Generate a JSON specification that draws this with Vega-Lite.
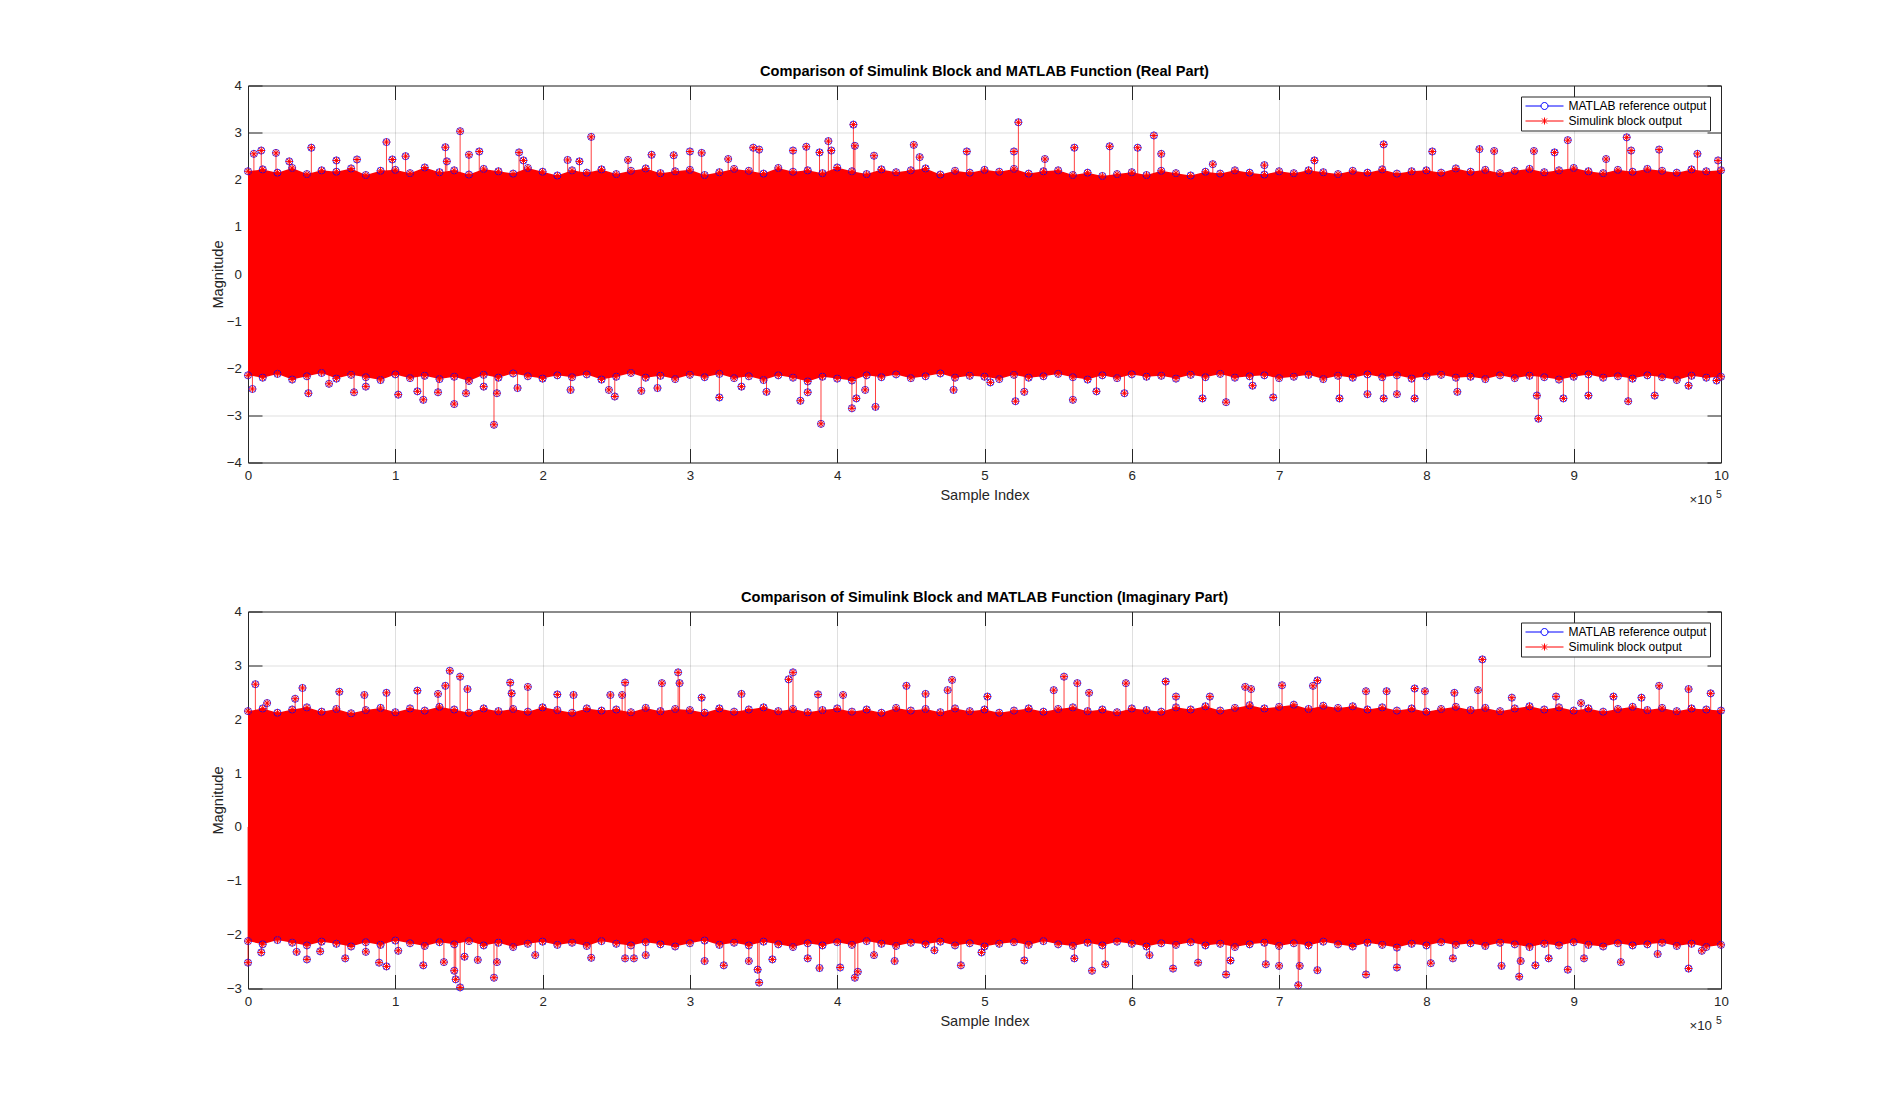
{
  "$schema": "https://vega.github.io/schema/vega-lite/v6.json",
  "padding": {"left": 210, "top": 63.5, "right": 0, "bottom": 0},
  "background": "white",
  "datasets": {
    "band": [
      {"panel":"re","index":0,"upper":2.18,"lower":-2.15},{"panel":"re","index":10000,"upper":2.22,"lower":-2.2},{"panel":"re","index":20000,"upper":2.15,"lower":-2.12},{"panel":"re","index":30000,"upper":2.25,"lower":-2.24},{"panel":"re","index":40000,"upper":2.12,"lower":-2.17},{"panel":"re","index":50000,"upper":2.2,"lower":-2.1},{"panel":"re","index":60000,"upper":2.17,"lower":-2.22},{"panel":"re","index":70000,"upper":2.24,"lower":-2.14},{"panel":"re","index":80000,"upper":2.1,"lower":-2.19},{"panel":"re","index":90000,"upper":2.19,"lower":-2.25},
      {"panel":"re","index":100000,"upper":2.21,"lower":-2.13},{"panel":"re","index":110000,"upper":2.14,"lower":-2.21},{"panel":"re","index":120000,"upper":2.26,"lower":-2.16},{"panel":"re","index":130000,"upper":2.16,"lower":-2.23},{"panel":"re","index":140000,"upper":2.2,"lower":-2.18},{"panel":"re","index":150000,"upper":2.11,"lower":-2.27},{"panel":"re","index":160000,"upper":2.23,"lower":-2.14},{"panel":"re","index":170000,"upper":2.18,"lower":-2.2},{"panel":"re","index":180000,"upper":2.13,"lower":-2.11},{"panel":"re","index":190000,"upper":2.25,"lower":-2.17},
      {"panel":"re","index":200000,"upper":2.17,"lower":-2.22},{"panel":"re","index":210000,"upper":2.09,"lower":-2.15},{"panel":"re","index":220000,"upper":2.2,"lower":-2.19},{"panel":"re","index":230000,"upper":2.15,"lower":-2.13},{"panel":"re","index":240000,"upper":2.22,"lower":-2.24},{"panel":"re","index":250000,"upper":2.12,"lower":-2.18},{"panel":"re","index":260000,"upper":2.19,"lower":-2.1},{"panel":"re","index":270000,"upper":2.24,"lower":-2.2},{"panel":"re","index":280000,"upper":2.14,"lower":-2.16},{"panel":"re","index":290000,"upper":2.18,"lower":-2.23},
      {"panel":"re","index":300000,"upper":2.21,"lower":-2.14},{"panel":"re","index":310000,"upper":2.1,"lower":-2.19},{"panel":"re","index":320000,"upper":2.16,"lower":-2.12},{"panel":"re","index":330000,"upper":2.23,"lower":-2.21},{"panel":"re","index":340000,"upper":2.19,"lower":-2.17},{"panel":"re","index":350000,"upper":2.13,"lower":-2.25},{"panel":"re","index":360000,"upper":2.25,"lower":-2.15},{"panel":"re","index":370000,"upper":2.17,"lower":-2.2},{"panel":"re","index":380000,"upper":2.2,"lower":-2.28},{"panel":"re","index":390000,"upper":2.14,"lower":-2.18},
      {"panel":"re","index":400000,"upper":2.26,"lower":-2.22},{"panel":"re","index":410000,"upper":2.18,"lower":-2.26},{"panel":"re","index":420000,"upper":2.12,"lower":-2.15},{"panel":"re","index":430000,"upper":2.22,"lower":-2.19},{"panel":"re","index":440000,"upper":2.16,"lower":-2.13},{"panel":"re","index":450000,"upper":2.2,"lower":-2.21},{"panel":"re","index":460000,"upper":2.24,"lower":-2.17},{"panel":"re","index":470000,"upper":2.11,"lower":-2.11},{"panel":"re","index":480000,"upper":2.19,"lower":-2.2},{"panel":"re","index":490000,"upper":2.15,"lower":-2.16},
      {"panel":"re","index":500000,"upper":2.21,"lower":-2.18},{"panel":"re","index":510000,"upper":2.17,"lower":-2.23},{"panel":"re","index":520000,"upper":2.23,"lower":-2.14},{"panel":"re","index":530000,"upper":2.13,"lower":-2.2},{"panel":"re","index":540000,"upper":2.18,"lower":-2.17},{"panel":"re","index":550000,"upper":2.2,"lower":-2.12},{"panel":"re","index":560000,"upper":2.1,"lower":-2.19},{"panel":"re","index":570000,"upper":2.15,"lower":-2.24},{"panel":"re","index":580000,"upper":2.08,"lower":-2.15},{"panel":"re","index":590000,"upper":2.12,"lower":-2.21},
      {"panel":"re","index":600000,"upper":2.16,"lower":-2.13},{"panel":"re","index":610000,"upper":2.1,"lower":-2.18},{"panel":"re","index":620000,"upper":2.19,"lower":-2.16},{"panel":"re","index":630000,"upper":2.14,"lower":-2.22},{"panel":"re","index":640000,"upper":2.09,"lower":-2.14},{"panel":"re","index":650000,"upper":2.17,"lower":-2.19},{"panel":"re","index":660000,"upper":2.13,"lower":-2.12},{"panel":"re","index":670000,"upper":2.2,"lower":-2.2},{"panel":"re","index":680000,"upper":2.15,"lower":-2.17},{"panel":"re","index":690000,"upper":2.11,"lower":-2.15},
      {"panel":"re","index":700000,"upper":2.18,"lower":-2.21},{"panel":"re","index":710000,"upper":2.14,"lower":-2.18},{"panel":"re","index":720000,"upper":2.2,"lower":-2.14},{"panel":"re","index":730000,"upper":2.16,"lower":-2.23},{"panel":"re","index":740000,"upper":2.12,"lower":-2.16},{"panel":"re","index":750000,"upper":2.19,"lower":-2.2},{"panel":"re","index":760000,"upper":2.15,"lower":-2.13},{"panel":"re","index":770000,"upper":2.22,"lower":-2.19},{"panel":"re","index":780000,"upper":2.13,"lower":-2.15},{"panel":"re","index":790000,"upper":2.18,"lower":-2.22},
      {"panel":"re","index":800000,"upper":2.2,"lower":-2.17},{"panel":"re","index":810000,"upper":2.15,"lower":-2.14},{"panel":"re","index":820000,"upper":2.24,"lower":-2.2},{"panel":"re","index":830000,"upper":2.17,"lower":-2.18},{"panel":"re","index":840000,"upper":2.21,"lower":-2.23},{"panel":"re","index":850000,"upper":2.14,"lower":-2.15},{"panel":"re","index":860000,"upper":2.19,"lower":-2.21},{"panel":"re","index":870000,"upper":2.23,"lower":-2.16},{"panel":"re","index":880000,"upper":2.16,"lower":-2.19},{"panel":"re","index":890000,"upper":2.2,"lower":-2.24},
      {"panel":"re","index":900000,"upper":2.25,"lower":-2.18},{"panel":"re","index":910000,"upper":2.18,"lower":-2.13},{"panel":"re","index":920000,"upper":2.14,"lower":-2.2},{"panel":"re","index":930000,"upper":2.21,"lower":-2.17},{"panel":"re","index":940000,"upper":2.17,"lower":-2.22},{"panel":"re","index":950000,"upper":2.23,"lower":-2.15},{"panel":"re","index":960000,"upper":2.19,"lower":-2.19},{"panel":"re","index":970000,"upper":2.15,"lower":-2.25},{"panel":"re","index":980000,"upper":2.22,"lower":-2.16},{"panel":"re","index":990000,"upper":2.18,"lower":-2.2},
      {"panel":"re","index":1000000,"upper":2.2,"lower":-2.18},
      {"panel":"im","index":0,"upper":2.15,"lower":-2.12},{"panel":"im","index":10000,"upper":2.2,"lower":-2.18},{"panel":"im","index":20000,"upper":2.12,"lower":-2.1},{"panel":"im","index":30000,"upper":2.18,"lower":-2.15},{"panel":"im","index":40000,"upper":2.22,"lower":-2.2},{"panel":"im","index":50000,"upper":2.14,"lower":-2.13},{"panel":"im","index":60000,"upper":2.19,"lower":-2.17},{"panel":"im","index":70000,"upper":2.11,"lower":-2.22},{"panel":"im","index":80000,"upper":2.17,"lower":-2.14},{"panel":"im","index":90000,"upper":2.21,"lower":-2.19},
      {"panel":"im","index":100000,"upper":2.13,"lower":-2.11},{"panel":"im","index":110000,"upper":2.2,"lower":-2.16},{"panel":"im","index":120000,"upper":2.16,"lower":-2.21},{"panel":"im","index":130000,"upper":2.23,"lower":-2.14},{"panel":"im","index":140000,"upper":2.18,"lower":-2.18},{"panel":"im","index":150000,"upper":2.12,"lower":-2.12},{"panel":"im","index":160000,"upper":2.2,"lower":-2.2},{"panel":"im","index":170000,"upper":2.15,"lower":-2.15},{"panel":"im","index":180000,"upper":2.19,"lower":-2.23},{"panel":"im","index":190000,"upper":2.14,"lower":-2.17},
      {"panel":"im","index":200000,"upper":2.22,"lower":-2.13},{"panel":"im","index":210000,"upper":2.17,"lower":-2.19},{"panel":"im","index":220000,"upper":2.12,"lower":-2.15},{"panel":"im","index":230000,"upper":2.2,"lower":-2.21},{"panel":"im","index":240000,"upper":2.16,"lower":-2.12},{"panel":"im","index":250000,"upper":2.18,"lower":-2.17},{"panel":"im","index":260000,"upper":2.13,"lower":-2.2},{"panel":"im","index":270000,"upper":2.21,"lower":-2.14},{"panel":"im","index":280000,"upper":2.15,"lower":-2.18},{"panel":"im","index":290000,"upper":2.19,"lower":-2.22},
      {"panel":"im","index":300000,"upper":2.17,"lower":-2.16},{"panel":"im","index":310000,"upper":2.12,"lower":-2.11},{"panel":"im","index":320000,"upper":2.2,"lower":-2.19},{"panel":"im","index":330000,"upper":2.14,"lower":-2.15},{"panel":"im","index":340000,"upper":2.18,"lower":-2.2},{"panel":"im","index":350000,"upper":2.22,"lower":-2.13},{"panel":"im","index":360000,"upper":2.15,"lower":-2.18},{"panel":"im","index":370000,"upper":2.19,"lower":-2.23},{"panel":"im","index":380000,"upper":2.13,"lower":-2.16},{"panel":"im","index":390000,"upper":2.17,"lower":-2.2},
      {"panel":"im","index":400000,"upper":2.2,"lower":-2.14},{"panel":"im","index":410000,"upper":2.14,"lower":-2.19},{"panel":"im","index":420000,"upper":2.18,"lower":-2.12},{"panel":"im","index":430000,"upper":2.12,"lower":-2.17},{"panel":"im","index":440000,"upper":2.21,"lower":-2.21},{"panel":"im","index":450000,"upper":2.16,"lower":-2.15},{"panel":"im","index":460000,"upper":2.19,"lower":-2.18},{"panel":"im","index":470000,"upper":2.13,"lower":-2.13},{"panel":"im","index":480000,"upper":2.2,"lower":-2.2},{"panel":"im","index":490000,"upper":2.15,"lower":-2.16},
      {"panel":"im","index":500000,"upper":2.18,"lower":-2.22},{"panel":"im","index":510000,"upper":2.12,"lower":-2.17},{"panel":"im","index":520000,"upper":2.16,"lower":-2.14},{"panel":"im","index":530000,"upper":2.2,"lower":-2.19},{"panel":"im","index":540000,"upper":2.14,"lower":-2.12},{"panel":"im","index":550000,"upper":2.19,"lower":-2.18},{"panel":"im","index":560000,"upper":2.22,"lower":-2.21},{"panel":"im","index":570000,"upper":2.15,"lower":-2.15},{"panel":"im","index":580000,"upper":2.18,"lower":-2.2},{"panel":"im","index":590000,"upper":2.13,"lower":-2.13},
      {"panel":"im","index":600000,"upper":2.2,"lower":-2.17},{"panel":"im","index":610000,"upper":2.17,"lower":-2.22},{"panel":"im","index":620000,"upper":2.14,"lower":-2.16},{"panel":"im","index":630000,"upper":2.22,"lower":-2.19},{"panel":"im","index":640000,"upper":2.18,"lower":-2.14},{"panel":"im","index":650000,"upper":2.24,"lower":-2.2},{"panel":"im","index":660000,"upper":2.16,"lower":-2.17},{"panel":"im","index":670000,"upper":2.21,"lower":-2.23},{"panel":"im","index":680000,"upper":2.26,"lower":-2.18},{"panel":"im","index":690000,"upper":2.2,"lower":-2.15},
      {"panel":"im","index":700000,"upper":2.23,"lower":-2.21},{"panel":"im","index":710000,"upper":2.27,"lower":-2.16},{"panel":"im","index":720000,"upper":2.19,"lower":-2.2},{"panel":"im","index":730000,"upper":2.25,"lower":-2.13},{"panel":"im","index":740000,"upper":2.21,"lower":-2.18},{"panel":"im","index":750000,"upper":2.24,"lower":-2.22},{"panel":"im","index":760000,"upper":2.18,"lower":-2.15},{"panel":"im","index":770000,"upper":2.22,"lower":-2.19},{"panel":"im","index":780000,"upper":2.16,"lower":-2.24},{"panel":"im","index":790000,"upper":2.2,"lower":-2.17},
      {"panel":"im","index":800000,"upper":2.14,"lower":-2.2},{"panel":"im","index":810000,"upper":2.19,"lower":-2.14},{"panel":"im","index":820000,"upper":2.23,"lower":-2.19},{"panel":"im","index":830000,"upper":2.17,"lower":-2.16},{"panel":"im","index":840000,"upper":2.21,"lower":-2.21},{"panel":"im","index":850000,"upper":2.15,"lower":-2.15},{"panel":"im","index":860000,"upper":2.2,"lower":-2.18},{"panel":"im","index":870000,"upper":2.24,"lower":-2.23},{"panel":"im","index":880000,"upper":2.18,"lower":-2.17},{"panel":"im","index":890000,"upper":2.22,"lower":-2.2},
      {"panel":"im","index":900000,"upper":2.16,"lower":-2.14},{"panel":"im","index":910000,"upper":2.2,"lower":-2.19},{"panel":"im","index":920000,"upper":2.14,"lower":-2.22},{"panel":"im","index":930000,"upper":2.19,"lower":-2.16},{"panel":"im","index":940000,"upper":2.23,"lower":-2.2},{"panel":"im","index":950000,"upper":2.17,"lower":-2.18},{"panel":"im","index":960000,"upper":2.21,"lower":-2.15},{"panel":"im","index":970000,"upper":2.15,"lower":-2.21},{"panel":"im","index":980000,"upper":2.2,"lower":-2.17},{"panel":"im","index":990000,"upper":2.18,"lower":-2.23},
      {"panel":"im","index":1000000,"upper":2.16,"lower":-2.19}
    ],
    "samples": [
      {"panel":"re","index":4000,"value":2.55},{"panel":"re","index":9000,"value":2.62},{"panel":"re","index":19000,"value":2.57},{"panel":"re","index":28000,"value":2.39},{"panel":"re","index":43000,"value":2.68},{"panel":"re","index":60000,"value":2.41},{"panel":"re","index":74000,"value":2.43},{"panel":"re","index":94000,"value":2.8},{"panel":"re","index":98000,"value":2.43},{"panel":"re","index":107000,"value":2.5},
      {"panel":"re","index":134000,"value":2.69},{"panel":"re","index":135000,"value":2.39},{"panel":"re","index":144000,"value":3.03},{"panel":"re","index":150000,"value":2.53},{"panel":"re","index":157000,"value":2.6},{"panel":"re","index":184000,"value":2.58},{"panel":"re","index":187000,"value":2.41},{"panel":"re","index":217000,"value":2.42},{"panel":"re","index":225000,"value":2.39},{"panel":"re","index":233000,"value":2.91},
      {"panel":"re","index":258000,"value":2.42},{"panel":"re","index":274000,"value":2.53},{"panel":"re","index":289000,"value":2.52},{"panel":"re","index":300000,"value":2.6},{"panel":"re","index":308000,"value":2.57},{"panel":"re","index":326000,"value":2.44},{"panel":"re","index":343000,"value":2.68},{"panel":"re","index":347000,"value":2.64},{"panel":"re","index":370000,"value":2.62},{"panel":"re","index":379000,"value":2.7},
      {"panel":"re","index":388000,"value":2.58},{"panel":"re","index":394000,"value":2.82},{"panel":"re","index":396000,"value":2.62},{"panel":"re","index":411000,"value":3.17},{"panel":"re","index":412000,"value":2.72},{"panel":"re","index":425000,"value":2.51},{"panel":"re","index":452000,"value":2.74},{"panel":"re","index":456000,"value":2.48},{"panel":"re","index":488000,"value":2.6},{"panel":"re","index":520000,"value":2.6},
      {"panel":"re","index":523000,"value":3.22},{"panel":"re","index":541000,"value":2.44},{"panel":"re","index":561000,"value":2.68},{"panel":"re","index":585000,"value":2.71},{"panel":"re","index":604000,"value":2.68},{"panel":"re","index":615000,"value":2.94},{"panel":"re","index":620000,"value":2.55},{"panel":"re","index":655000,"value":2.33},{"panel":"re","index":690000,"value":2.31},{"panel":"re","index":724000,"value":2.41},
      {"panel":"re","index":771000,"value":2.75},{"panel":"re","index":804000,"value":2.6},{"panel":"re","index":836000,"value":2.65},{"panel":"re","index":846000,"value":2.61},{"panel":"re","index":873000,"value":2.61},{"panel":"re","index":887000,"value":2.58},{"panel":"re","index":896000,"value":2.84},{"panel":"re","index":922000,"value":2.44},{"panel":"re","index":936000,"value":2.9},{"panel":"re","index":939000,"value":2.62},
      {"panel":"re","index":958000,"value":2.64},{"panel":"re","index":984000,"value":2.55},{"panel":"re","index":998000,"value":2.41},
      {"panel":"re","index":3000,"value":-2.44},{"panel":"re","index":41000,"value":-2.53},{"panel":"re","index":55000,"value":-2.33},{"panel":"re","index":72000,"value":-2.51},{"panel":"re","index":80000,"value":-2.39},{"panel":"re","index":102000,"value":-2.56},{"panel":"re","index":115000,"value":-2.49},{"panel":"re","index":119000,"value":-2.67},{"panel":"re","index":129000,"value":-2.51},{"panel":"re","index":140000,"value":-2.76},
      {"panel":"re","index":148000,"value":-2.53},{"panel":"re","index":160000,"value":-2.39},{"panel":"re","index":167000,"value":-3.2},{"panel":"re","index":169000,"value":-2.53},{"panel":"re","index":183000,"value":-2.42},{"panel":"re","index":219000,"value":-2.46},{"panel":"re","index":245000,"value":-2.46},{"panel":"re","index":249000,"value":-2.6},{"panel":"re","index":267000,"value":-2.48},{"panel":"re","index":278000,"value":-2.42},
      {"panel":"re","index":320000,"value":-2.62},{"panel":"re","index":335000,"value":-2.39},{"panel":"re","index":352000,"value":-2.5},{"panel":"re","index":375000,"value":-2.69},{"panel":"re","index":380000,"value":-2.51},{"panel":"re","index":389000,"value":-3.18},{"panel":"re","index":410000,"value":-2.85},{"panel":"re","index":413000,"value":-2.64},{"panel":"re","index":419000,"value":-2.46},{"panel":"re","index":426000,"value":-2.82},
      {"panel":"re","index":479000,"value":-2.46},{"panel":"re","index":504000,"value":-2.3},{"panel":"re","index":521000,"value":-2.7},{"panel":"re","index":527000,"value":-2.5},{"panel":"re","index":560000,"value":-2.67},{"panel":"re","index":576000,"value":-2.49},{"panel":"re","index":595000,"value":-2.53},{"panel":"re","index":648000,"value":-2.64},{"panel":"re","index":664000,"value":-2.72},{"panel":"re","index":682000,"value":-2.37},
      {"panel":"re","index":696000,"value":-2.62},{"panel":"re","index":741000,"value":-2.64},{"panel":"re","index":760000,"value":-2.55},{"panel":"re","index":771000,"value":-2.64},{"panel":"re","index":780000,"value":-2.55},{"panel":"re","index":792000,"value":-2.64},{"panel":"re","index":821000,"value":-2.5},{"panel":"re","index":875000,"value":-2.58},{"panel":"re","index":876000,"value":-3.07},{"panel":"re","index":893000,"value":-2.64},
      {"panel":"re","index":910000,"value":-2.58},{"panel":"re","index":937000,"value":-2.7},{"panel":"re","index":955000,"value":-2.58},{"panel":"re","index":978000,"value":-2.37},{"panel":"re","index":997000,"value":-2.26},
      {"panel":"im","index":5000,"value":2.65},{"panel":"im","index":13000,"value":2.3},{"panel":"im","index":32000,"value":2.38},{"panel":"im","index":37000,"value":2.58},{"panel":"im","index":62000,"value":2.51},{"panel":"im","index":79000,"value":2.45},{"panel":"im","index":94000,"value":2.49},{"panel":"im","index":115000,"value":2.53},{"panel":"im","index":129000,"value":2.47},{"panel":"im","index":134000,"value":2.62},
      {"panel":"im","index":137000,"value":2.9},{"panel":"im","index":144000,"value":2.79},{"panel":"im","index":149000,"value":2.56},{"panel":"im","index":178000,"value":2.68},{"panel":"im","index":179000,"value":2.48},{"panel":"im","index":190000,"value":2.6},{"panel":"im","index":210000,"value":2.46},{"panel":"im","index":221000,"value":2.45},{"panel":"im","index":246000,"value":2.45},{"panel":"im","index":254000,"value":2.45},
      {"panel":"im","index":256000,"value":2.68},{"panel":"im","index":281000,"value":2.67},{"panel":"im","index":292000,"value":2.87},{"panel":"im","index":293000,"value":2.67},{"panel":"im","index":308000,"value":2.4},{"panel":"im","index":335000,"value":2.47},{"panel":"im","index":367000,"value":2.74},{"panel":"im","index":370000,"value":2.87},{"panel":"im","index":387000,"value":2.46},{"panel":"im","index":404000,"value":2.45},
      {"panel":"im","index":447000,"value":2.62},{"panel":"im","index":460000,"value":2.47},{"panel":"im","index":475000,"value":2.54},{"panel":"im","index":478000,"value":2.73},{"panel":"im","index":502000,"value":2.42},{"panel":"im","index":547000,"value":2.54},{"panel":"im","index":554000,"value":2.79},{"panel":"im","index":563000,"value":2.67},{"panel":"im","index":571000,"value":2.49},{"panel":"im","index":596000,"value":2.67},
      {"panel":"im","index":623000,"value":2.7},{"panel":"im","index":630000,"value":2.42},{"panel":"im","index":653000,"value":2.42},{"panel":"im","index":677000,"value":2.6},{"panel":"im","index":681000,"value":2.56},{"panel":"im","index":702000,"value":2.63},{"panel":"im","index":723000,"value":2.62},{"panel":"im","index":726000,"value":2.72},{"panel":"im","index":759000,"value":2.52},{"panel":"im","index":773000,"value":2.52},
      {"panel":"im","index":792000,"value":2.57},{"panel":"im","index":799000,"value":2.52},{"panel":"im","index":819000,"value":2.49},{"panel":"im","index":835000,"value":2.54},{"panel":"im","index":838000,"value":3.11},{"panel":"im","index":858000,"value":2.4},{"panel":"im","index":888000,"value":2.42},{"panel":"im","index":905000,"value":2.3},{"panel":"im","index":927000,"value":2.42},{"panel":"im","index":946000,"value":2.4},
      {"panel":"im","index":958000,"value":2.62},{"panel":"im","index":978000,"value":2.56},{"panel":"im","index":993000,"value":2.48},
      {"panel":"im","index":0,"value":-2.52},{"panel":"im","index":9000,"value":-2.33},{"panel":"im","index":33000,"value":-2.32},{"panel":"im","index":40000,"value":-2.46},{"panel":"im","index":49000,"value":-2.31},{"panel":"im","index":66000,"value":-2.44},{"panel":"im","index":80000,"value":-2.32},{"panel":"im","index":89000,"value":-2.52},{"panel":"im","index":94000,"value":-2.59},{"panel":"im","index":102000,"value":-2.3},
      {"panel":"im","index":119000,"value":-2.57},{"panel":"im","index":133000,"value":-2.51},{"panel":"im","index":140000,"value":-2.67},{"panel":"im","index":141000,"value":-2.83},{"panel":"im","index":144000,"value":-2.98},{"panel":"im","index":147000,"value":-2.41},{"panel":"im","index":156000,"value":-2.47},{"panel":"im","index":167000,"value":-2.8},{"panel":"im","index":169000,"value":-2.51},{"panel":"im","index":195000,"value":-2.38},
      {"panel":"im","index":233000,"value":-2.43},{"panel":"im","index":256000,"value":-2.44},{"panel":"im","index":262000,"value":-2.44},{"panel":"im","index":270000,"value":-2.38},{"panel":"im","index":310000,"value":-2.49},{"panel":"im","index":323000,"value":-2.57},{"panel":"im","index":340000,"value":-2.49},{"panel":"im","index":346000,"value":-2.65},{"panel":"im","index":347000,"value":-2.89},{"panel":"im","index":356000,"value":-2.46},
      {"panel":"im","index":380000,"value":-2.44},{"panel":"im","index":388000,"value":-2.62},{"panel":"im","index":402000,"value":-2.61},{"panel":"im","index":412000,"value":-2.8},{"panel":"im","index":414000,"value":-2.69},{"panel":"im","index":425000,"value":-2.38},{"panel":"im","index":439000,"value":-2.49},{"panel":"im","index":466000,"value":-2.29},{"panel":"im","index":484000,"value":-2.57},{"panel":"im","index":498000,"value":-2.33},
      {"panel":"im","index":527000,"value":-2.48},{"panel":"im","index":561000,"value":-2.44},{"panel":"im","index":573000,"value":-2.67},{"panel":"im","index":582000,"value":-2.55},{"panel":"im","index":612000,"value":-2.38},{"panel":"im","index":628000,"value":-2.63},{"panel":"im","index":645000,"value":-2.52},{"panel":"im","index":664000,"value":-2.74},{"panel":"im","index":667000,"value":-2.48},{"panel":"im","index":691000,"value":-2.55},
      {"panel":"im","index":700000,"value":-2.58},{"panel":"im","index":713000,"value":-2.94},{"panel":"im","index":714000,"value":-2.58},{"panel":"im","index":726000,"value":-2.66},{"panel":"im","index":759000,"value":-2.74},{"panel":"im","index":780000,"value":-2.61},{"panel":"im","index":803000,"value":-2.53},{"panel":"im","index":818000,"value":-2.44},{"panel":"im","index":851000,"value":-2.58},{"panel":"im","index":863000,"value":-2.78},
      {"panel":"im","index":864000,"value":-2.49},{"panel":"im","index":874000,"value":-2.57},{"panel":"im","index":883000,"value":-2.44},{"panel":"im","index":896000,"value":-2.65},{"panel":"im","index":907000,"value":-2.44},{"panel":"im","index":932000,"value":-2.51},{"panel":"im","index":957000,"value":-2.36},{"panel":"im","index":978000,"value":-2.63},{"panel":"im","index":987000,"value":-2.3}
    ]
  },
  "config": {
    "view": {"stroke": null},
    "font": "Liberation Sans",
    "axis": {
      "domainColor": "#262626", "domainWidth": 1,
      "tickColor": "#262626", "tickWidth": 1, "tickSize": -14,
      "labelColor": "#262626", "labelFont": "Liberation Sans", "labelFontSize": 13.3, "labelFlush": false,
      "titleColor": "#262626", "titleFont": "Liberation Sans", "titleFontSize": 14.6, "titleFontWeight": "normal",
      "gridColor": "#262626", "gridOpacity": 0.15
    },
    "legend": {
      "orient": "top-right", "offset": 11, "padding": 3.5,
      "strokeColor": "#262626", "fillColor": "#ffffff",
      "labelFont": "Liberation Sans", "labelFontSize": 12, "labelColor": "#000000",
      "symbolSize": 100, "symbolStrokeWidth": 1, "symbolOpacity": 1,
      "rowPadding": 3, "labelOffset": 32
    },
    "title": {"font": "Liberation Sans", "fontSize": 14.6, "fontWeight": "bold", "color": "#000000", "offset": -0.25, "anchor": "middle"}
  },
  "spacing": 83,
  "resolve": {"scale": {"y": "independent", "color": "independent", "shape": "independent"}},
  "vconcat": [
    {
      "width": 1473,
      "height": 377,
      "title": {"text": "Comparison of Simulink Block and MATLAB Function (Real Part)"},
      "layer": [
        {
          "data": {"name": "band"},
          "transform": [{"filter": "datum.panel === 're'"}],
          "mark": {"type": "area", "color": "#ff0000", "opacity": 1},
          "encoding": {
            "x": {"field": "index", "type": "quantitative", "scale": {"domain": [0, 1000000], "nice": false, "zero": false},
              "axis": {"orient": "bottom", "values": [0,100000,200000,300000,400000,500000,600000,700000,800000,900000,1000000], "labelExpr": "format(datum.value/100000, 'd')", "title": "Sample Index", "grid": true, "labelPadding": 19.5, "titlePadding": 6}},
            "y": {"field": "upper", "type": "quantitative", "scale": {"domain": [-4, 4], "nice": false, "zero": false},
              "axis": {"orient": "left", "values": [-4,-3,-2,-1,0,1,2,3,4], "title": "Magnitude", "grid": true, "labelPadding": 20.6, "titlePadding": 0.5}},
            "y2": {"field": "lower"}
          }
        },
        {
          "data": {"name": "samples"},
          "transform": [{"filter": "datum.panel === 're'"}],
          "mark": {"type": "rule", "color": "#ff0000", "strokeWidth": 1, "opacity": 0.75},
          "encoding": {
            "x": {"field": "index", "type": "quantitative", "axis": {"orient": "top", "values": [0,100000,200000,300000,400000,500000,600000,700000,800000,900000,1000000], "labels": false, "title": null, "grid": false}},
            "y": {"field": "value", "type": "quantitative", "axis": {"orient": "right", "values": [-4,-3,-2,-1,0,1,2,3,4], "labels": false, "title": null, "grid": false}},
            "y2": {"datum": 0}
          }
        },
        {
          "data": {"name": "band"},
          "transform": [{"filter": "datum.panel === 're'"}, {"fold": ["upper", "lower"], "as": ["edge", "value"]}],
          "mark": {"type": "point", "shape": "circle", "filled": false, "color": "#0000ff", "size": 50, "strokeWidth": 0.8, "opacity": 1},
          "encoding": {"x": {"field": "index", "type": "quantitative", "axis": null}, "y": {"field": "value", "type": "quantitative", "axis": null}}
        },
        {
          "data": {"name": "samples"},
          "transform": [{"filter": "datum.panel === 're'"}],
          "mark": {"type": "point", "shape": "circle", "filled": false, "color": "#0000ff", "size": 50, "strokeWidth": 0.8, "opacity": 1},
          "encoding": {"x": {"field": "index", "type": "quantitative", "axis": null}, "y": {"field": "value", "type": "quantitative", "axis": null}}
        },
        {
          "data": {"name": "band"},
          "transform": [{"filter": "datum.panel === 're'"}, {"fold": ["upper", "lower"], "as": ["edge", "value"]}],
          "mark": {"type": "point", "shape": "M0,-1L0,1M-1,0L1,0M-0.7,-0.7L0.7,0.7M-0.7,0.7L0.7,-0.7", "filled": false, "color": "#ff0000", "size": 58, "strokeWidth": 1, "opacity": 1},
          "encoding": {"x": {"field": "index", "type": "quantitative", "axis": null}, "y": {"field": "value", "type": "quantitative", "axis": null}}
        },
        {
          "data": {"name": "samples"},
          "transform": [{"filter": "datum.panel === 're'"}],
          "mark": {"type": "point", "shape": "M0,-1L0,1M-1,0L1,0M-0.7,-0.7L0.7,0.7M-0.7,0.7L0.7,-0.7", "filled": false, "color": "#ff0000", "size": 58, "strokeWidth": 1, "opacity": 1},
          "encoding": {"x": {"field": "index", "type": "quantitative", "axis": null}, "y": {"field": "value", "type": "quantitative", "axis": null}}
        },
        {
          "data": {"values": [{"note": "exponent"}]},
          "mark": {"type": "text", "text": "×10", "align": "right", "baseline": "alphabetic", "dx": -9, "dy": 41, "fontSize": 13.3, "color": "#262626"},
          "encoding": {"x": {"datum": 1000000, "type": "quantitative", "axis": null}, "y": {"datum": -4, "type": "quantitative", "axis": null}}
        },
        {
          "data": {"values": [{"note": "exponent"}]},
          "mark": {"type": "text", "text": "5", "align": "left", "baseline": "alphabetic", "dx": -5, "dy": 35, "fontSize": 10.5, "color": "#262626"},
          "encoding": {"x": {"datum": 1000000, "type": "quantitative", "axis": null}, "y": {"datum": -4, "type": "quantitative", "axis": null}}
        },
        {
          "data": {"values": [{"series": "MATLAB reference output"}, {"series": "Simulink block output"}]},
          "mark": {"type": "point", "filled": false, "opacity": 0},
          "encoding": {
            "color": {"field": "series", "type": "nominal", "scale": {"domain": ["MATLAB reference output", "Simulink block output"], "range": ["#0000ff", "#ff0000"]}, "legend": {"title": null}},
            "shape": {"field": "series", "type": "nominal", "scale": {"domain": ["MATLAB reference output", "Simulink block output"], "range": ["M-1,0L2.1,0M3.5,0L6.6,0M2.1,0A0.7,0.7 0 1,0 3.5,0A0.7,0.7 0 1,0 2.1,0", "M-1,0L6.6,0M2.8,-0.7L2.8,0.7M2.3,-0.5L3.3,0.5M2.3,0.5L3.3,-0.5"]}, "legend": {"title": null}}
          }
        }
      ]
    },
    {
      "width": 1473,
      "height": 377,
      "title": {"text": "Comparison of Simulink Block and MATLAB Function (Imaginary Part)"},
      "layer": [
        {
          "data": {"name": "band"},
          "transform": [{"filter": "datum.panel === 'im'"}],
          "mark": {"type": "area", "color": "#ff0000", "opacity": 1},
          "encoding": {
            "x": {"field": "index", "type": "quantitative", "scale": {"domain": [0, 1000000], "nice": false, "zero": false},
              "axis": {"orient": "bottom", "values": [0,100000,200000,300000,400000,500000,600000,700000,800000,900000,1000000], "labelExpr": "format(datum.value/100000, 'd')", "title": "Sample Index", "grid": true, "labelPadding": 19.5, "titlePadding": 6}},
            "y": {"field": "upper", "type": "quantitative", "scale": {"domain": [-3, 4], "nice": false, "zero": false},
              "axis": {"orient": "left", "values": [-3,-2,-1,0,1,2,3,4], "title": "Magnitude", "grid": true, "labelPadding": 20.6, "titlePadding": 0.5}},
            "y2": {"field": "lower"}
          }
        },
        {
          "data": {"name": "samples"},
          "transform": [{"filter": "datum.panel === 'im'"}],
          "mark": {"type": "rule", "color": "#ff0000", "strokeWidth": 1, "opacity": 0.75},
          "encoding": {
            "x": {"field": "index", "type": "quantitative", "axis": {"orient": "top", "values": [0,100000,200000,300000,400000,500000,600000,700000,800000,900000,1000000], "labels": false, "title": null, "grid": false}},
            "y": {"field": "value", "type": "quantitative", "axis": {"orient": "right", "values": [-3,-2,-1,0,1,2,3,4], "labels": false, "title": null, "grid": false}},
            "y2": {"datum": 0}
          }
        },
        {
          "data": {"name": "band"},
          "transform": [{"filter": "datum.panel === 'im'"}, {"fold": ["upper", "lower"], "as": ["edge", "value"]}],
          "mark": {"type": "point", "shape": "circle", "filled": false, "color": "#0000ff", "size": 50, "strokeWidth": 0.8, "opacity": 1},
          "encoding": {"x": {"field": "index", "type": "quantitative", "axis": null}, "y": {"field": "value", "type": "quantitative", "axis": null}}
        },
        {
          "data": {"name": "samples"},
          "transform": [{"filter": "datum.panel === 'im'"}],
          "mark": {"type": "point", "shape": "circle", "filled": false, "color": "#0000ff", "size": 50, "strokeWidth": 0.8, "opacity": 1},
          "encoding": {"x": {"field": "index", "type": "quantitative", "axis": null}, "y": {"field": "value", "type": "quantitative", "axis": null}}
        },
        {
          "data": {"name": "band"},
          "transform": [{"filter": "datum.panel === 'im'"}, {"fold": ["upper", "lower"], "as": ["edge", "value"]}],
          "mark": {"type": "point", "shape": "M0,-1L0,1M-1,0L1,0M-0.7,-0.7L0.7,0.7M-0.7,0.7L0.7,-0.7", "filled": false, "color": "#ff0000", "size": 58, "strokeWidth": 1, "opacity": 1},
          "encoding": {"x": {"field": "index", "type": "quantitative", "axis": null}, "y": {"field": "value", "type": "quantitative", "axis": null}}
        },
        {
          "data": {"name": "samples"},
          "transform": [{"filter": "datum.panel === 'im'"}],
          "mark": {"type": "point", "shape": "M0,-1L0,1M-1,0L1,0M-0.7,-0.7L0.7,0.7M-0.7,0.7L0.7,-0.7", "filled": false, "color": "#ff0000", "size": 58, "strokeWidth": 1, "opacity": 1},
          "encoding": {"x": {"field": "index", "type": "quantitative", "axis": null}, "y": {"field": "value", "type": "quantitative", "axis": null}}
        },
        {
          "data": {"values": [{"note": "exponent"}]},
          "mark": {"type": "text", "text": "×10", "align": "right", "baseline": "alphabetic", "dx": -9, "dy": 41, "fontSize": 13.3, "color": "#262626"},
          "encoding": {"x": {"datum": 1000000, "type": "quantitative", "axis": null}, "y": {"datum": -3, "type": "quantitative", "axis": null}}
        },
        {
          "data": {"values": [{"note": "exponent"}]},
          "mark": {"type": "text", "text": "5", "align": "left", "baseline": "alphabetic", "dx": -5, "dy": 35, "fontSize": 10.5, "color": "#262626"},
          "encoding": {"x": {"datum": 1000000, "type": "quantitative", "axis": null}, "y": {"datum": -3, "type": "quantitative", "axis": null}}
        },
        {
          "data": {"values": [{"series": "MATLAB reference output"}, {"series": "Simulink block output"}]},
          "mark": {"type": "point", "filled": false, "opacity": 0},
          "encoding": {
            "color": {"field": "series", "type": "nominal", "scale": {"domain": ["MATLAB reference output", "Simulink block output"], "range": ["#0000ff", "#ff0000"]}, "legend": {"title": null}},
            "shape": {"field": "series", "type": "nominal", "scale": {"domain": ["MATLAB reference output", "Simulink block output"], "range": ["M-1,0L2.1,0M3.5,0L6.6,0M2.1,0A0.7,0.7 0 1,0 3.5,0A0.7,0.7 0 1,0 2.1,0", "M-1,0L6.6,0M2.8,-0.7L2.8,0.7M2.3,-0.5L3.3,0.5M2.3,0.5L3.3,-0.5"]}, "legend": {"title": null}}
          }
        }
      ]
    }
  ]
}
